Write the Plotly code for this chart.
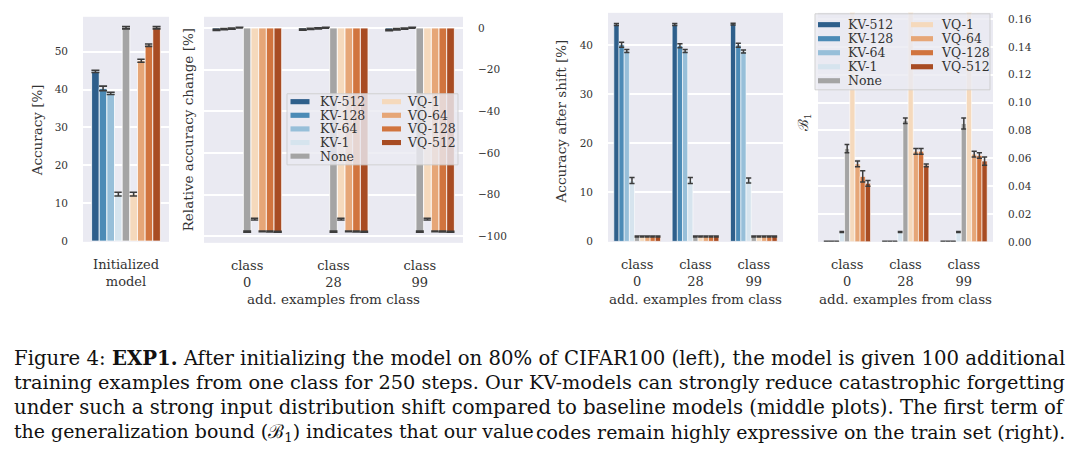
import plotly.graph_objects as go
from plotly.subplots import make_subplots

W, H = 1080, 465

# ---------------- data ----------------
series = ["KV-512", "KV-128", "KV-64", "KV-1", "None", "VQ-1", "VQ-64", "VQ-128", "VQ-512"]
colors = ["#2E5F8B", "#4C8BB6", "#97BFD9", "#D6E4EE", "#A4A4A4",
          "#F5D9BC", "#E6A677", "#D1743E", "#A84C23"]

init_cat = ["Initialized model"]
init_tick = ["Initialized<br>model"]
init_acc = [44.8, 40.3, 39.0, 12.4, 56.3, 12.4, 47.6, 51.7, 56.3]
init_err = [0.3, 0.6, 0.3, 0.5, 0.3, 0.5, 0.4, 0.3, 0.3]

classes = ["class 0", "class 28", "class 99"]
class_ticks = ["class<br>0", "class<br>28", "class<br>99"]

# rows follow `series`, columns follow `classes`
rel_change = [
    [-0.9, -0.8, -1.0],
    [-0.5, -0.4, -0.6],
    [-0.3, -0.2, -0.3],
    [0.2, 0.1, 0.1],
    [-97.8, -97.8, -97.8],
    [-91.8, -91.8, -91.8],
    [-97.7, -97.7, -97.7],
    [-97.8, -97.8, -97.8],
    [-97.9, -97.9, -97.9],
]
rel_change_err = [
    [0.3, 0.3, 0.3], [0.3, 0.3, 0.3], [0.3, 0.3, 0.3], [0.2, 0.2, 0.2],
    [0.3, 0.3, 0.3], [0.4, 0.4, 0.4], [0.2, 0.2, 0.2], [0.2, 0.2, 0.2], [0.2, 0.2, 0.2],
]

acc_after = [
    [44.2, 44.2, 44.3],
    [40.1, 39.9, 40.0],
    [38.8, 38.8, 38.7],
    [12.4, 12.4, 12.4],
    [1.0, 1.0, 1.0],
    [1.0, 1.0, 1.0],
    [1.0, 1.0, 1.0],
    [1.0, 1.0, 1.0],
    [1.0, 1.0, 1.0],
]
acc_after_err = [
    [0.2, 0.2, 0.2], [0.5, 0.4, 0.4], [0.3, 0.3, 0.3], [0.6, 0.6, 0.5],
    [0.1, 0.1, 0.1], [0.1, 0.1, 0.1], [0.1, 0.1, 0.1], [0.1, 0.1, 0.1], [0.1, 0.1, 0.1],
]

b1 = [
    [0.0002, 0.0002, 0.0002],
    [0.0002, 0.0002, 0.0002],
    [0.0003, 0.0003, 0.0003],
    [0.0071, 0.0071, 0.0071],
    [0.067, 0.087, 0.085],
    [0.175, 0.180, 0.178],
    [0.056, 0.065, 0.063],
    [0.047, 0.065, 0.062],
    [0.042, 0.055, 0.058],
]
b1_err = [
    [0.0002, 0.0002, 0.0002], [0.0002, 0.0002, 0.0002], [0.0002, 0.0002, 0.0002],
    [0.0004, 0.0004, 0.0004], [0.003, 0.002, 0.004], [0.0, 0.0, 0.0],
    [0.002, 0.002, 0.002], [0.004, 0.002, 0.002], [0.002, 0.001, 0.003],
]

y1_ticks = [0, 10, 20, 30, 40, 50]
y2_ticks = [0, -20, -40, -60, -80, -100]
y3_ticks = [0, 10, 20, 30, 40]
y4_ticks = [0.00, 0.02, 0.04, 0.06, 0.08, 0.10, 0.12, 0.14, 0.16]

xlabel = "add. examples from class"
caption = [
    ("Figure 4: <b>EXP1.</b> After initializing the model on 80% of",
     "CIFAR100 (left), the model is given 100 additional"),
    ("training examples from one class for 250 steps. Our",
     "KV-models can strongly reduce catastrophic forgetting"),
    ("under such a strong input distribution shift compared",
     "to baseline models (middle plots). The first term of"),
    ("the generalization bound (\u212c<sub>1</sub>) indicates that our value",
     "codes remain highly expressive on the train set (right)."),
]

# ---------------- figure ----------------
FONT = "DejaVu Serif"
CAPFONT = "DejaVu Serif"
TXT = "#333333"
BG = "#EAEAF2"
ERR = "#3C3C3C"


def px(x):
    return x / W


def py(y):
    return 1 - y / H


fig = make_subplots(rows=1, cols=4)

for i, name in enumerate(series):
    fig.add_trace(go.Bar(
        x=init_cat, y=[init_acc[i]], name=name, marker_color=colors[i],
        marker_line_color="white", marker_line_width=0.8, showlegend=False,
        error_y=dict(type="data", array=[init_err[i]], color=ERR, thickness=1.6, width=4),
    ), row=1, col=1)
    fig.add_trace(go.Bar(
        x=classes, y=rel_change[i], name=name, marker_color=colors[i],
        marker_line_color="white", marker_line_width=0.8, showlegend=False,
        error_y=dict(type="data", array=rel_change_err[i], color=ERR, thickness=1.6, width=4),
    ), row=1, col=2)
    fig.add_trace(go.Bar(
        x=classes, y=acc_after[i], name=name, marker_color=colors[i],
        marker_line_color="white", marker_line_width=0.6, showlegend=False,
        error_y=dict(type="data", array=acc_after_err[i], color=ERR, thickness=1.5, width=2.6),
    ), row=1, col=3)
    fig.add_trace(go.Bar(
        x=classes, y=b1[i], name=name, marker_color=colors[i],
        marker_line_color="white", marker_line_width=0.6, showlegend=False,
        error_y=dict(type="data", array=b1_err[i], color=ERR, thickness=1.5, width=2.6),
    ), row=1, col=4)

fig.update_layout(
    width=W, height=H, margin=dict(l=0, r=0, t=0, b=0),
    paper_bgcolor="white", plot_bgcolor=BG,
    barmode="group", bargap=0.2, bargroupgap=0,
    font=dict(family=FONT, color=TXT, size=11),
)

xdom = [(83, 169), (204, 463), (608, 783), (818, 993)]
ydom = [(17, 245), (17, 246), (13, 245), (13, 245)]
for k in range(4):
    xa = "xaxis" if k == 0 else f"xaxis{k+1}"
    ya = "yaxis" if k == 0 else f"yaxis{k+1}"
    fig.layout[xa].domain = [px(xdom[k][0]), px(xdom[k][1])]
    fig.layout[ya].domain = [py(ydom[k][1]), py(ydom[k][0])]

common_x = dict(showgrid=False, zeroline=False, showline=False, ticks="",
                tickfont=dict(family=FONT, size=13, color=TXT), ticklabelstandoff=13)
fig.update_xaxes(**common_x)
fig.update_xaxes(range=[-0.5, 0.5], tickvals=init_cat, ticktext=init_tick, row=1, col=1)
for c in (2, 3, 4):
    fig.update_xaxes(range=[-0.5, 2.5], tickvals=classes, ticktext=class_ticks, row=1, col=c)

common_y = dict(showgrid=True, gridcolor="white", gridwidth=1.6, zeroline=False,
                showline=False, ticks="", tickfont=dict(family=FONT, size=10.5, color=TXT),
                ticklabelstandoff=14)
fig.update_yaxes(**common_y)
fig.update_yaxes(range=[-0.2, 59.2], tickvals=y1_ticks, row=1, col=1)
fig.update_yaxes(range=[-103.2, 5.4], tickvals=y2_ticks,
                 ticktext=[("\u2212" + str(-t)) if t < 0 else str(t) for t in y2_ticks],
                 side="right", row=1, col=2)
fig.update_yaxes(range=[-0.1, 46.6], tickvals=y3_ticks, row=1, col=3)
fig.update_yaxes(range=[0, 0.1645], tickvals=y4_ticks,
                 ticktext=[f"{t:.2f}" for t in y4_ticks], side="right", row=1, col=4)

ann = []
shapes = []


def text(x, y, s, size=13.5, angle=0, xanchor="center", family=FONT, color=TXT):
    ann.append(dict(x=px(x), y=py(y), xref="paper", yref="paper", text=s, showarrow=False,
                    textangle=angle, xanchor=xanchor, yanchor="middle",
                    font=dict(family=family, size=size, color=color)))


# axis titles
text(37, 132, "Accuracy [%]", angle=-90)
text(188, 132, "Relative accuracy change [%]", angle=-90)
text(561, 123, "Accuracy after shift [%]", angle=-90)
text(804, 124, "\u212c<sub>1</sub>", angle=-90, size=14)
for k in (1, 2, 3):
    text((xdom[k][0] + xdom[k][1]) / 2, 303, xlabel)


def legend(box, c0, c1, lx0, lx1, y0, dy, pw):
    shapes.append(dict(type="rect", xref="paper", yref="paper", layer="above",
                       x0=px(box[0]), x1=px(box[1]), y0=py(box[3]), y1=py(box[2]),
                       fillcolor="rgba(234,234,242,0.82)",
                       line=dict(color="rgba(205,205,205,0.9)", width=1)))
    for i, name in enumerate(series):
        col = 0 if i < 5 else 1
        row = i if i < 5 else i - 5
        yc = y0 + row * dy
        xs = c0 if col == 0 else c1
        shapes.append(dict(type="rect", xref="paper", yref="paper", layer="above",
                           x0=px(xs), x1=px(xs + pw), y0=py(yc + 2.6), y1=py(yc - 2.6),
                           fillcolor=colors[i], line=dict(width=0)))
        text(lx0 if col == 0 else lx1, yc, name, size=12.5, xanchor="left")


legend((287, 458, 95, 167), 290.5, 382, 318, 405, 103, 13.8, 19)
legend((815, 990, 14, 91), 818, 911, 846, 939, 25, 14.2, 22)

# caption (justified: each line's first part flush left, second part flush right)
cap_y = [363, 388, 413, 438]
cap_size = [19.68, 19.3, 19.65, 18.95]
for (a, b), yy, sz in zip(caption, cap_y, cap_size):
    text(12, yy, a, size=sz, xanchor="left", family=CAPFONT, color="#111111")
    text(1067, yy, b, size=sz, xanchor="right", family=CAPFONT, color="#111111")

fig.update_layout(annotations=ann, shapes=shapes)
fig.write_html("out.html", post_script="document.body.style.margin='0';",
               config={"displayModeBar": False})
